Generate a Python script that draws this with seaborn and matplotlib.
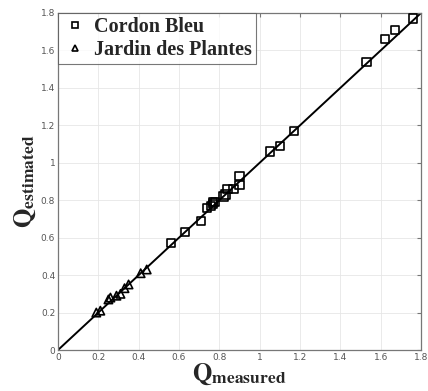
import matplotlib
matplotlib.use("Agg")
import matplotlib.pyplot as plt
import seaborn as sns
import pandas as pd

cb_measured = [0.56, 0.63, 0.71, 0.74, 0.76, 0.77, 0.77, 0.78, 0.82, 0.83, 0.84, 0.87, 0.90, 0.90, 1.05, 1.10, 1.17, 1.53, 1.62, 1.67, 1.76]
cb_estimated = [0.57, 0.63, 0.69, 0.76, 0.77, 0.78, 0.79, 0.79, 0.82, 0.83, 0.86, 0.86, 0.88, 0.93, 1.06, 1.09, 1.17, 1.54, 1.66, 1.71, 1.77]
jp_measured = [0.19, 0.21, 0.25, 0.26, 0.29, 0.31, 0.33, 0.35, 0.41, 0.44]
jp_estimated = [0.20, 0.21, 0.27, 0.28, 0.29, 0.30, 0.33, 0.35, 0.41, 0.43]
series_names = ["Cordon Bleu", "Jardin des Plantes"]
line_x = [0, 1.8]
ticks = [0, 0.2, 0.4, 0.6, 0.8, 1.0, 1.2, 1.4, 1.6, 1.8]
tick_labels = ["0", "0.2", "0.4", "0.6", "0.8", "1", "1.2", "1.4", "1.6", "1.8"]

df = pd.DataFrame({
    "measured": cb_measured + jp_measured,
    "estimated": cb_estimated + jp_estimated,
    "site": [series_names[0]] * len(cb_measured) + [series_names[1]] * len(jp_measured),
})
line_df = pd.DataFrame({"x": line_x, "y": line_x})

sns.set_style("white")
plt.rcParams["mathtext.fontset"] = "stix"

fig = plt.figure(figsize=(4.28, 3.91), dpi=100)
ax = fig.add_axes([58 / 428, 1 - 350 / 391, 363 / 428, 337 / 391])

sns.lineplot(data=line_df, x="x", y="y", color="black", lw=1.4, ax=ax, legend=False, zorder=2)
sns.scatterplot(data=df, x="measured", y="estimated", style="site",
                markers={series_names[0]: "s", series_names[1]: "^"},
                s=36, facecolor="none", edgecolor="black", linewidth=1.2,
                ax=ax, zorder=3)

ax.set_xlim(0, 1.8)
ax.set_ylim(0, 1.8)
ax.set_xticks(ticks)
ax.set_yticks(ticks)
ax.set_xticklabels(tick_labels)
ax.set_yticklabels(tick_labels)
ax.tick_params(axis="both", labelsize=6.5, labelcolor="#555555", direction="in",
               length=3, color="#777777", top=True, right=True, pad=2)
ax.grid(True, color="#e6e6e6", lw=0.6)
for sp in ax.spines.values():
    sp.set_color("#777777")
    sp.set_linewidth(0.9)

ax.set_xlabel(r"$\mathbf{Q}_{\mathbf{measured}}$", fontsize=18, labelpad=0)
ax.set_ylabel(r"$\mathbf{Q}_{\mathbf{estimated}}$", fontsize=18, labelpad=2)

handles, labels = ax.get_legend_handles_labels()
for h in handles:
    h.set_markerfacecolor("none")
    h.set_markeredgecolor("black")
    h.set_markersize(5)
leg = ax.legend(handles, labels, loc="upper left", frameon=True, fancybox=False,
                prop={"family": "Liberation Serif", "weight": "bold", "size": 14.5},
                borderaxespad=0, handletextpad=0.3, borderpad=0.2, labelspacing=0.15,
                handlelength=1.3)
leg.get_frame().set_edgecolor("#555555")
leg.get_frame().set_linewidth(0.8)

fig.savefig("out.png", dpi=100)
